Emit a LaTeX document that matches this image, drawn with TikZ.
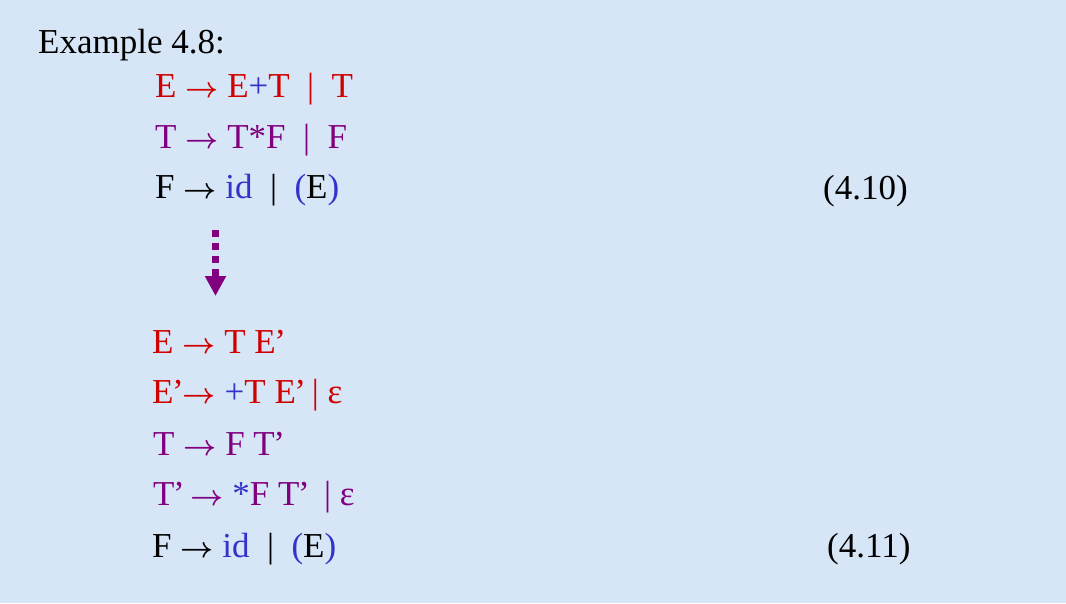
\documentclass[tikz,border=0pt]{standalone}
\usepackage{fontspec}
\usepackage{amsmath}
\usepackage{graphicx}
\setmainfont{Liberation Serif}
\usetikzlibrary{arrows.meta}
\definecolor{bgblue}{HTML}{D6E6F7}
\definecolor{rred}{HTML}{D00000}
\definecolor{ppurple}{HTML}{800080}
\definecolor{bblue}{HTML}{3333CC}
\newcommand{\arr}{\scalebox{1.16}{$\boldsymbol{\rightarrow}$}}
\newcommand{\pr}{\kern-1.5pt’\kern-3pt}
\tikzset{
  txt/.style={anchor=base west, inner sep=0pt, font=\fontsize{35}{40}\selectfont},
  dashedarrow/.style={draw=ppurple, line width=7pt, dash pattern=on 7pt off 6pt,
    -{Triangle[width=20pt,length=20pt]}}
}
\begin{document}
\begin{tikzpicture}[x=1pt,y=-1pt]
\fill[bgblue] (0,0) rectangle (1066,603);
\useasboundingbox (0,0) rectangle (1066,603);
\node[txt] (title) at (38,53) {Example 4.8:};
\node[txt,text=rred] (r1) at (155,97) {E \arr{} E\textcolor{bblue}{+}T \ |\ \ T};
\node[txt,text=ppurple] (r2) at (155,148) {T \arr{} T*F \ |\ \ F};
\node[txt] (r3) at (155,198) {F \arr{} \textcolor{bblue}{id} \ |\ \ \textcolor{bblue}{(}E\textcolor{bblue}{)}};
\node[txt] (eq1) at (823,199) {(4.10)};
\coordinate (a1) at (215.5,230);
\coordinate (a2) at (215.5,296);
\draw[dashedarrow] (a1) -- (a2);
\node[txt,text=rred] (s1) at (152,353) {E \arr{} T E\pr};
\node[txt,text=rred] (s2) at (152,403) {E\pr\kern2pt\arr{} \textcolor{bblue}{+}T E\pr\ | ε};
\node[txt,text=ppurple] (s3) at (153,455) {T \arr{} F T\pr};
\node[txt,text=ppurple] (s4) at (153,505) {T\pr\ \arr{} \textcolor{bblue}{*}F T\pr\ \ | ε};
\node[txt] (s5) at (152,557) {F \arr{} \textcolor{bblue}{id} \ |\ \ \textcolor{bblue}{(}E\textcolor{bblue}{)}};
\node[txt] (eq2) at (827,557) {(4.11)};
\end{tikzpicture}
\end{document}
